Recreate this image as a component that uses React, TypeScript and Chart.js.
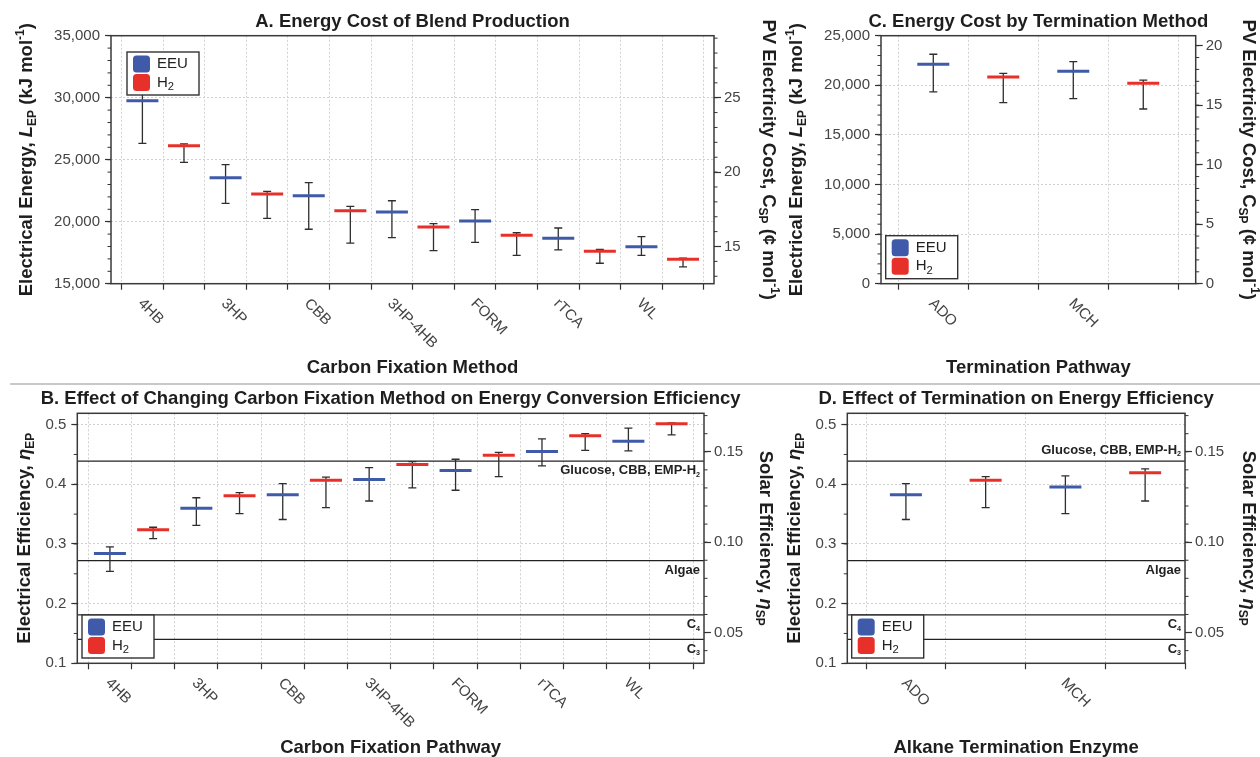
import React, { useEffect, useRef } from 'react';
import { Chart, registerables } from 'chart.js';
Chart.register(...registerables);

const FONT = '"Liberation Sans", Arial, Helvetica, sans-serif';
const BLUE = '#3f5aa9';
const RED = '#e8302a';
const PAGE_W = 1260;
const PAGE_H = 757;
const LEFT_AXIS_W = 64;
const RIGHT_AXIS_W = 44;

// ---------- Data ----------
const fixationMethods = ['4HB', '3HP', 'CBB', '3HP-4HB', 'FORM', 'rTCA', 'WL'];
const costEEUMean = [29760, 23550, 22100, 20780, 20060, 18660, 17980];
const costEEULow = [26320, 21480, 19390, 18710, 18340, 17720, 17290];
const costEEUHigh = [30900, 24600, 23150, 21690, 20970, 19490, 18790];
const costH2Mean = [26130, 22230, 20890, 19570, 18900, 17610, 16970];
const costH2Low = [24790, 20270, 18280, 17660, 17290, 16650, 16350];
const costH2High = [26270, 22450, 21240, 19840, 19110, 17770, 17070];

const terminationEnzymes = ['ADO', 'MCH'];
const termCostEEUMean = [22120, 21410];
const termCostEEULow = [19330, 18650];
const termCostEEUHigh = [23130, 22380];
const termCostH2Mean = [20840, 20200];
const termCostH2Low = [18250, 17610];
const termCostH2High = [21210, 20530];

const effEEUMean = [0.284, 0.36, 0.3825, 0.408, 0.423, 0.455, 0.472];
const effEEULow = [0.254, 0.331, 0.341, 0.372, 0.39, 0.431, 0.456];
const effEEUHigh = [0.295, 0.3775, 0.401, 0.428, 0.442, 0.476, 0.494];
const effH2Mean = [0.324, 0.381, 0.4066, 0.433, 0.4485, 0.4815, 0.5015];
const effH2Low = [0.309, 0.351, 0.361, 0.394, 0.413, 0.457, 0.483];
const effH2High = [0.328, 0.386, 0.412, 0.438, 0.4535, 0.485, 0.503];

const termEffEEUMean = [0.3825, 0.3953];
const termEffEEULow = [0.341, 0.351];
const termEffEEUHigh = [0.401, 0.414];
const termEffH2Mean = [0.4066, 0.4195];
const termEffH2Low = [0.361, 0.372];
const termEffH2High = [0.413, 0.426];

const benchmarkEfficiency = [0.439, 0.272, 0.181, 0.14];

const costTicksA = [15000, 20000, 25000, 30000, 35000];
const costTicksC = [0, 5000, 10000, 15000, 20000, 25000];
const pvTicksA = [15, 20, 25];
const pvTicksC = [0, 5, 10, 15, 20];
const effTicks = [0.1, 0.2, 0.3, 0.4, 0.5];
const solarTicks = [0.05, 0.1, 0.15];

const KJ_PER_CENT = 1200;
const SOLAR_PER_ELECTRICAL = 0.33;

// ---------- Helpers ----------
type Seg = { t: string; i?: boolean; sub?: boolean; sup?: boolean };

function drawRich(ctx: any, segs: Seg[], x: number, y: number, size: number, bold: boolean,
  color: string, align: string, smallRatio = 0.65) {
  const small = size * smallRatio;
  const fontFor = (s: Seg) =>
    `${s.i ? 'italic ' : ''}${bold ? 'bold ' : ''}${s.sub || s.sup ? small : size}px ${FONT}`;
  let total = 0;
  const widths = segs.map((s) => {
    ctx.font = fontFor(s);
    const w = ctx.measureText(s.t).width;
    total += w;
    return w;
  });
  let cx = align === 'center' ? x - total / 2 : align === 'right' ? x - total : x;
  ctx.fillStyle = color;
  ctx.textBaseline = 'middle';
  ctx.textAlign = 'left';
  segs.forEach((s, k) => {
    ctx.font = fontFor(s);
    const dy = s.sub ? size * 0.3 : s.sup ? -size * 0.35 : 0;
    ctx.fillText(s.t, cx, y + dy);
    cx += widths[k];
  });
}

const benchLabels: Seg[][] = [
  [{ t: 'Glucose, CBB, EMP-H' }, { t: '2', sub: true }],
  [{ t: 'Algae' }],
  [{ t: 'C' }, { t: '4', sub: true }],
  [{ t: 'C' }, { t: '3', sub: true }],
];

const costLeftTitle: Seg[] = [
  { t: 'Electrical Energy, ' }, { t: 'L', i: true }, { t: 'EP', sub: true },
  { t: ' (kJ mol' }, { t: '-1', sup: true }, { t: ')' },
];
const costRightTitle: Seg[] = [
  { t: 'PV Electricity Cost, C' }, { t: 'SP', sub: true },
  { t: ' (¢ mol' }, { t: '-1', sup: true }, { t: ')' },
];
const effLeftTitle: Seg[] = [{ t: 'Electrical Efficiency, ' }, { t: 'η', i: true }, { t: 'EP', sub: true }];
const effRightTitle: Seg[] = [{ t: 'Solar Efficiency, ' }, { t: 'η', i: true }, { t: 'SP', sub: true }];

const fmtThousands = (v: number) => Math.round(v).toLocaleString('en-US');

const panels: any[] = [
  {
    id: 'A',
    title: 'A. Energy Cost of Blend Production',
    xTitle: 'Carbon Fixation Method',
    leftTitle: costLeftTitle,
    rightTitle: costRightTitle,
    area: { left: 111, top: 35.7, right: 714, bottom: 283.7 },
    titleY: 21.7, xTitleY: 368, leftTitleX: 27, rightTitleX: 768,
    categories: fixationMethods,
    eeu: { mean: costEEUMean, low: costEEULow, high: costEEUHigh },
    h2: { mean: costH2Mean, low: costH2Low, high: costH2High },
    xRange: [-0.755, 13.745],
    yRange: [15000, 35000], yTicks: costTicksA, yMinor: 1000, yFmt: fmtThousands,
    rightFactor: 1 / KJ_PER_CENT, rightTicks: pvTicksA, rightMinor: 1, rightFmt: (v: number) => String(v),
    legend: { x: 127, y: 52 },
    benchAbove: null,
  },
  {
    id: 'C',
    title: 'C. Energy Cost by Termination Method',
    xTitle: 'Termination Pathway',
    leftTitle: costLeftTitle,
    rightTitle: costRightTitle,
    area: { left: 881, top: 35.7, right: 1195.7, bottom: 283.7 },
    titleY: 21.7, xTitleY: 368, leftTitleX: 797, rightTitleX: 1248,
    categories: terminationEnzymes,
    eeu: { mean: termCostEEUMean, low: termCostEEULow, high: termCostEEUHigh },
    h2: { mean: termCostH2Mean, low: termCostH2Low, high: termCostH2High },
    xRange: [-0.747, 3.749],
    yRange: [0, 25000], yTicks: costTicksC, yMinor: 1000, yFmt: fmtThousands,
    rightFactor: 1 / KJ_PER_CENT, rightTicks: pvTicksC, rightMinor: 1, rightFmt: (v: number) => String(v),
    legend: { x: 885.7, y: 235.7 },
    benchAbove: null,
  },
  {
    id: 'B',
    title: 'B. Effect of Changing Carbon Fixation Method on Energy Conversion Efficiency',
    xTitle: 'Carbon Fixation Pathway',
    leftTitle: effLeftTitle,
    rightTitle: effRightTitle,
    area: { left: 77.3, top: 413.3, right: 704, bottom: 663.3 },
    titleY: 399.3, xTitleY: 748.3, leftTitleX: 25, rightTitleX: 765,
    categories: fixationMethods,
    eeu: { mean: effEEUMean, low: effEEULow, high: effEEUHigh },
    h2: { mean: effH2Mean, low: effH2Low, high: effH2High },
    xRange: [-0.755, 13.75],
    yRange: [0.1, 0.519], yTicks: effTicks, yMinor: 0.05, yFmt: (v: number) => v.toFixed(1),
    rightFactor: SOLAR_PER_ELECTRICAL, rightTicks: solarTicks, rightMinor: 0.01, rightFmt: (v: number) => v.toFixed(2),
    legend: { x: 82, y: 615 },
    benchAbove: [false, false, false, false],
  },
  {
    id: 'D',
    title: 'D. Effect of Termination on Energy Efficiency',
    xTitle: 'Alkane Termination Enzyme',
    leftTitle: effLeftTitle,
    rightTitle: effRightTitle,
    area: { left: 847.3, top: 413.3, right: 1185, bottom: 663.3 },
    titleY: 399.3, xTitleY: 747.7, leftTitleX: 795, rightTitleX: 1248,
    categories: terminationEnzymes,
    eeu: { mean: termEffEEUMean, low: termEffEEULow, high: termEffEEUHigh },
    h2: { mean: termEffH2Mean, low: termEffH2Low, high: termEffH2High },
    xRange: [-0.735, 3.5],
    yRange: [0.1, 0.519], yTicks: effTicks, yMinor: 0.05, yFmt: (v: number) => v.toFixed(1),
    rightFactor: SOLAR_PER_ELECTRICAL, rightTicks: solarTicks, rightMinor: 0.01, rightFmt: (v: number) => v.toFixed(2),
    legend: { x: 851.7, y: 615 },
    benchAbove: [true, false, false, false],
  },
];

function buildChart(canvas: HTMLCanvasElement, s: any) {
  const n = s.categories.length;
  const bounds: number[] = [];
  for (let k = 0; k <= 2 * n; k++) bounds.push(k - 0.5);
  const series = [
    { label: [{ t: 'EEU' }] as Seg[], color: BLUE, d: s.eeu, off: 0 },
    { label: [{ t: 'H' }, { t: '2', sub: true }] as Seg[], color: RED, d: s.h2, off: 1 },
  ];
  const tickFont = { family: FONT, size: 15 };
  const rMin = s.yRange[0] * s.rightFactor;
  const rMax = s.yRange[1] * s.rightFactor;
  const a0 = s.area;

  const deco = {
    id: 'deco' + s.id,
    beforeDatasetsDraw(chart: any) {
      const ctx = chart.ctx;
      const xs = chart.scales.x;
      const ys = chart.scales.y;
      const a = chart.chartArea;
      ctx.save();
      if (s.benchAbove) {
        ctx.strokeStyle = '#222';
        ctx.lineWidth = 1.2;
        benchmarkEfficiency.forEach((v) => {
          const py = ys.getPixelForValue(v);
          ctx.beginPath();
          ctx.moveTo(a.left, py);
          ctx.lineTo(a.right, py);
          ctx.stroke();
        });
      }
      ctx.strokeStyle = '#2e2e2e';
      ctx.lineWidth = 1.3;
      series.forEach((se) =>
        se.d.mean.forEach((_: number, i: number) => {
          const px = xs.getPixelForValue(2 * i + se.off);
          const lo = ys.getPixelForValue(se.d.low[i]);
          const hi = ys.getPixelForValue(se.d.high[i]);
          ctx.beginPath();
          ctx.moveTo(px, lo);
          ctx.lineTo(px, hi);
          ctx.moveTo(px - 4, lo);
          ctx.lineTo(px + 4, lo);
          ctx.moveTo(px - 4, hi);
          ctx.lineTo(px + 4, hi);
          ctx.stroke();
        })
      );
      ctx.restore();
    },
    afterDraw(chart: any) {
      const ctx = chart.ctx;
      const xs = chart.scales.x;
      const ys = chart.scales.y;
      const y2 = chart.scales.y2;
      const a = chart.chartArea;
      ctx.save();
      // frame
      ctx.strokeStyle = '#3a3a3a';
      ctx.lineWidth = 1.5;
      ctx.strokeRect(a.left, a.top, a.right - a.left, a.bottom - a.top);
      // minor ticks
      ctx.lineWidth = 1;
      ctx.strokeStyle = '#333';
      const k0 = Math.ceil(s.yRange[0] / s.yMinor - 1e-9);
      const k1 = Math.floor(s.yRange[1] / s.yMinor + 1e-9);
      for (let k = k0; k <= k1; k++) {
        const py = ys.getPixelForValue(k * s.yMinor);
        ctx.beginPath();
        ctx.moveTo(a.left - 3.5, py);
        ctx.lineTo(a.left, py);
        ctx.stroke();
      }
      const r0 = Math.ceil(rMin / s.rightMinor - 1e-9);
      const r1 = Math.floor(rMax / s.rightMinor + 1e-9);
      for (let k = r0; k <= r1; k++) {
        const py = y2.getPixelForValue(k * s.rightMinor);
        ctx.beginPath();
        ctx.moveTo(a.right, py);
        ctx.lineTo(a.right + 3.5, py);
        ctx.stroke();
      }
      // benchmark labels
      if (s.benchAbove) {
        benchmarkEfficiency.forEach((v, k) => {
          const py = ys.getPixelForValue(v) + (s.benchAbove[k] ? -10.5 : 9.7);
          drawRich(ctx, benchLabels[k], a.right - 4, py, 13, true, '#222', 'right', 0.55);
        });
      }
      // legend
      const L = s.legend;
      ctx.fillStyle = '#fff';
      ctx.fillRect(L.x, L.y, 72, 43);
      ctx.strokeStyle = '#333';
      ctx.lineWidth = 1.4;
      ctx.strokeRect(L.x, L.y, 72, 43);
      series.forEach((se, k) => {
        ctx.fillStyle = se.color;
        ctx.beginPath();
        ctx.roundRect(L.x + 6, L.y + 3.5 + k * 18.5, 17, 17, 3.5);
        ctx.fill();
        drawRich(ctx, se.label, L.x + 30, L.y + 12 + k * 18.5, 15, false, '#222', 'left', 0.75);
      });
      // category labels
      ctx.font = `15px ${FONT}`;
      ctx.fillStyle = '#444';
      ctx.textAlign = 'left';
      ctx.textBaseline = 'middle';
      s.categories.forEach((c: string, i: number) => {
        const px = xs.getPixelForValue(2 * i) - 2;
        const py = a.bottom + 17.5;
        ctx.save();
        ctx.translate(px, py);
        ctx.rotate(Math.PI / 4);
        ctx.fillText(c, 0, 0);
        ctx.restore();
      });
      // titles
      const cx = (a.left + a.right) / 2;
      const cy = (a.top + a.bottom) / 2;
      drawRich(ctx, [{ t: s.title }], cx, s.titleY, 18.5, true, '#1e1e1e', 'center');
      drawRich(ctx, [{ t: s.xTitle }], cx, s.xTitleY, 18.5, true, '#1e1e1e', 'center');
      ctx.save();
      ctx.translate(s.leftTitleX, cy);
      ctx.rotate(-Math.PI / 2);
      drawRich(ctx, s.leftTitle, 0, 0, 18.5, true, '#1e1e1e', 'center');
      ctx.restore();
      ctx.save();
      ctx.translate(s.rightTitleX, cy);
      ctx.rotate(Math.PI / 2);
      drawRich(ctx, s.rightTitle, 0, 0, 18.5, true, '#1e1e1e', 'center');
      ctx.restore();
      ctx.restore();
    },
  };

  const datasets = series.map((se) => ({
    label: se.label.map((x) => x.t).join(''),
    data: se.d.mean.map((m: number, i: number) => ({ x: 2 * i + se.off, y: m })),
    pointStyle: 'line',
    pointRadius: 16,
    pointHoverRadius: 16,
    pointBorderWidth: 3,
    pointHoverBorderWidth: 3,
    borderWidth: 3,
    borderColor: se.color,
    pointBorderColor: se.color,
    backgroundColor: se.color,
  }));

  const gridBase = { color: '#d0d0d0', lineWidth: 1, drawTicks: true, tickColor: '#333', tickWidth: 1.2 };

  return new Chart(canvas, {
    type: 'scatter',
    data: { datasets } as any,
    options: {
      responsive: false,
      animation: false,
      devicePixelRatio: 1,
      events: [],
      layout: {
        padding: {
          left: a0.left - LEFT_AXIS_W,
          top: a0.top,
          right: PAGE_W - a0.right - RIGHT_AXIS_W,
          bottom: PAGE_H - a0.bottom,
        },
      },
      plugins: { legend: { display: false }, tooltip: { enabled: false }, title: { display: false } },
      scales: {
        x: {
          type: 'linear',
          position: 'bottom',
          min: s.xRange[0],
          max: s.xRange[1],
          afterFit: (sc: any) => { sc.height = 0; },
          afterBuildTicks: (sc: any) => { sc.ticks = bounds.map((v) => ({ value: v })); },
          ticks: { callback: () => '', autoSkip: false, maxRotation: 0 },
          grid: { ...gridBase, tickLength: 6 },
          border: { display: false, dash: [2, 2] },
        },
        y: {
          type: 'linear',
          position: 'left',
          min: s.yRange[0],
          max: s.yRange[1],
          afterFit: (sc: any) => { sc.width = LEFT_AXIS_W; },
          afterBuildTicks: (sc: any) => { sc.ticks = s.yTicks.map((v: number) => ({ value: v })); },
          ticks: { callback: (v: any) => s.yFmt(Number(v)), font: tickFont, color: '#444', padding: 5, autoSkip: false },
          grid: { ...gridBase, tickLength: 6 },
          border: { display: false, dash: [2, 2] },
        },
        y2: {
          type: 'linear',
          position: 'right',
          min: rMin,
          max: rMax,
          afterFit: (sc: any) => { sc.width = RIGHT_AXIS_W; },
          afterBuildTicks: (sc: any) => { sc.ticks = s.rightTicks.map((v: number) => ({ value: v })); },
          ticks: { callback: (v: any) => s.rightFmt(Number(v)), font: tickFont, color: '#444', padding: 3, autoSkip: false },
          grid: { ...gridBase, tickLength: 7, drawOnChartArea: false },
          border: { display: false },
        },
      },
    } as any,
    plugins: [deco as any],
  });
}

function Panel({ spec }: { spec: any }) {
  const ref = useRef<HTMLCanvasElement>(null);
  useEffect(() => {
    const chart = buildChart(ref.current as HTMLCanvasElement, spec);
    return () => chart.destroy();
  }, [spec]);
  return (
    <canvas
      ref={ref}
      width={PAGE_W}
      height={PAGE_H}
      style={{ position: 'absolute', left: 0, top: 0, width: PAGE_W, height: PAGE_H }}
    />
  );
}

export default function App() {
  return (
    <div style={{ position: 'absolute', left: 0, top: 0, width: PAGE_W, height: PAGE_H, background: '#fff', overflow: 'hidden' }}>
      <div style={{ position: 'absolute', left: 10, top: 383, width: 1250, height: 2, background: '#c8c8c8' }} />
      {panels.map((p) => (
        <Panel key={p.id} spec={p} />
      ))}
    </div>
  );
}
